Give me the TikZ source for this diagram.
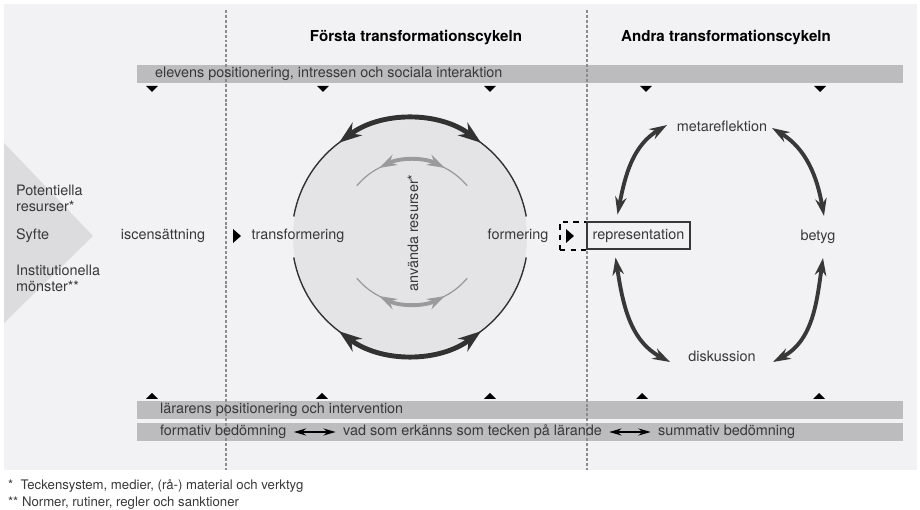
\documentclass[tikz,border=0pt]{standalone}
\usepackage{fontspec}
\setmainfont{TeX Gyre Heros}
\usetikzlibrary{arrows.meta,calc,positioning}
\definecolor{panel}{HTML}{F2F2F4}
\definecolor{stapelgra}{HTML}{BCBCBF}
\definecolor{kilgra}{HTML}{DCDCDE}
\definecolor{skiva}{HTML}{E4E4E6}
\definecolor{tusch}{HTML}{383838}
\definecolor{innergra}{HTML}{9A9A9C}
\definecolor{linjegra}{HTML}{8C8C8E}
\tikzset{
  etikett/.style={font=\fontsize{8.2}{9.2}\selectfont,text=tusch,inner sep=1pt},
  fotnot/.style={font=\fontsize{7.5}{8.6}\selectfont,text=tusch,inner sep=1pt},
  rubrik/.style={font=\fontsize{8.6}{10}\selectfont\bfseries,text=black},
  stapel/.style={fill=stapelgra},
  skiljelinje/.style={draw=linjegra,line width=1.1pt,dash pattern=on 1.7pt off 1.1pt},
  ringpil/.style={draw=tusch,line width=2.2pt,
    {Stealth[length=10pt,width=6.5pt]}-{Stealth[length=10pt,width=6.5pt]}},
  cirkelpil/.style={draw=tusch!90!black,line width=2.8pt,
    {Stealth[length=13pt,width=9pt]}-{Stealth[length=13pt,width=9pt]}},
  innerpil/.style={draw=innergra,line width=2.2pt,
    {Stealth[length=10pt,width=6.5pt]}-{Stealth[length=10pt,width=6.5pt]}},
  svans/.style={draw=tusch!90!black,line width=0.8pt},
  innersvans/.style={draw=innergra,line width=0.7pt},
  bytespil/.style={draw=black,line width=1pt,shorten <=3pt,shorten >=3pt,
    {Stealth[length=7pt,width=4pt]}-{Stealth[length=7pt,width=4pt]}}
}
\begin{document}
\begin{tikzpicture}[x=0.02cm,y=0.02cm]
    \useasboundingbox (0,0) rectangle (920,510);
    \fill[panel] (4,40) rectangle (917,506);

    % vänster kil
    \fill[kilgra] (4,367) -- (93,274) -- (4,187) -- cycle;
    \node[etikett,anchor=west,align=left] (potentiella) at (14,312) {Potentiella\\resurser*};
    \node[etikett,anchor=west] (syfte) at (14,274) {Syfte};
    \node[etikett,anchor=west,align=left] (institutionella) at (14,232) {Institutionella\\mönster**};

    % staplar
    \fill[stapel] (137,445) rectangle (903,427);
    \fill[stapel] (137,109) rectangle (903,91);
    \fill[stapel] (137,87) rectangle (903,69);

    \foreach \x in {152,323,490,646,820}
        \fill[black] (\x-6,424) -- (\x+6,424) -- (\x,418) -- cycle;
    \foreach \x in {152,322,490,642,819}
        \fill[black] (\x-6,111) -- (\x+6,111) -- (\x,117) -- cycle;

    % skiljelinjer
    \draw[skiljelinje] (226,500) -- (226,38);
    \draw[skiljelinje] (587,500) -- (587,38);

    \node[rubrik] (forsta) at (416,472) {Första transformationscykeln};
    \node[rubrik] (andra) at (726,472) {Andra transformationscykeln};

    \node[etikett,anchor=west] (elevens) at (153,436) {elevens positionering, intressen och sociala interaktion};
    \node[etikett,anchor=west] (lararens) at (158,100) {lärarens positionering och intervention};
    \node[etikett,anchor=west] (formativ) at (158,78) {formativ bedömning};
    \node[etikett,anchor=west] (vad) at (341,78) {vad som erkänns som tecken på lärande};
    \node[etikett,anchor=west] (summativ) at (656,78) {summativ bedömning};
    \draw[bytespil] (formativ) -- (vad);
    \draw[bytespil] (vad) -- (summativ);

    % första cykeln
    \node[etikett] (iscen) at (163,274) {iscensättning};
    \fill[black] (233,281) -- (241,274) -- (233,267) -- cycle;
    \coordinate (mitt) at (410,273);
    \coordinate (innermitt) at (412,278);
    \fill[skiva] (mitt) circle[radius=117];
    \node[etikett] (transf) at (298,274) {transformering};
    \node[etikett] (formering) at (518,274) {formering};
    \node[etikett,rotate=90] (anvanda) at (413,277) {använda resurser*};

    \draw[svans] ([shift={(170:118)}]mitt) arc[start angle=170,end angle=124,radius=118];
    \draw[svans] ([shift={(56:118)}]mitt) arc[start angle=56,end angle=10,radius=118];
    \draw[cirkelpil] ([shift={(127:118)}]mitt) arc[start angle=127,end angle=53,radius=118];
    \draw[svans] ([shift={(190:118)}]mitt) arc[start angle=190,end angle=236,radius=118];
    \draw[svans] ([shift={(304:118)}]mitt) arc[start angle=304,end angle=350,radius=118];
    \draw[cirkelpil] ([shift={(233:118)}]mitt) arc[start angle=233,end angle=307,radius=118];

    \draw[innersvans] ([shift={(140:72)}]innermitt) arc[start angle=140,end angle=113,radius=72];
    \draw[innersvans] ([shift={(67:72)}]innermitt) arc[start angle=67,end angle=40,radius=72];
    \draw[innerpil] ([shift={(117:72)}]innermitt) arc[start angle=117,end angle=63,radius=72];
    \draw[innersvans] ([shift={(220:72)}]innermitt) arc[start angle=220,end angle=247,radius=72];
    \draw[innersvans] ([shift={(293:72)}]innermitt) arc[start angle=293,end angle=320,radius=72];
    \draw[innerpil] ([shift={(243:72)}]innermitt) arc[start angle=243,end angle=297,radius=72];

    % övergång
    \node[draw=black,dashed,line width=0.6pt,minimum width=0.54cm,minimum height=0.56cm,inner sep=0pt] (steg) at (573.5,274) {};
    \fill[black] (566,281) -- (574,274) -- (566,267) -- cycle;
    \node[etikett,draw=tusch,line width=0.6pt,minimum width=2.06cm,minimum height=0.54cm] (repr) at (638.5,274.5) {representation};

    % andra cykeln
    \node[etikett] (meta) at (722,384) {metareflektion};
    \node[etikett] (betyg) at (818,273) {betyg};
    \node[etikett] (disk) at (722,154) {diskussion};
    \draw[ringpil] ([shift={(-55,1)}]meta.center) to[out=211,in=79] ([shift={(-21,21)}]repr.center);
    \draw[ringpil] ([shift={(50,-2)}]meta.center) to[out=-31,in=100] ([shift={(6,21)}]betyg.center);
    \draw[ringpil] ([shift={(-23,-22)}]repr.center) to[out=-81,in=152] ([shift={(-52,-6)}]disk.center);
    \draw[ringpil] ([shift={(5,-21)}]betyg.center) to[out=-98,in=28] ([shift={(51,-6)}]disk.center);

    % fotnoter
    \node[fotnot,anchor=west] (fot1) at (6,24) {*\ \ Teckensystem, medier, (rå-) material och verktyg};
    \node[fotnot,anchor=west] (fot2) at (6,7) {** Normer, rutiner, regler och sanktioner};
\end{tikzpicture}
\end{document}
